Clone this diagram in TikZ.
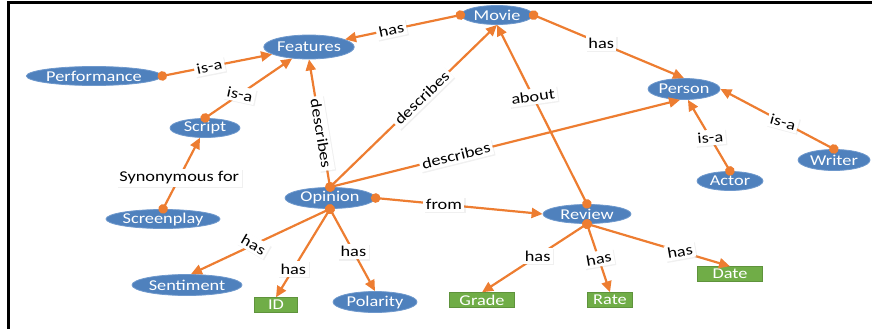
\documentclass[tikz,border=0pt]{standalone}
\usepackage{fontspec}
\setmainfont[FakeStretch=1.22]{Carlito}
\usepackage{tikz}
\usetikzlibrary{arrows.meta, calc, positioning, shapes.geometric, shadows}
\definecolor{conceptfill}{RGB}{79, 129, 189}
\definecolor{conceptstroke}{RGB}{110, 152, 204}
\definecolor{attrfill}{RGB}{112, 173, 71}
\definecolor{linkcol}{RGB}{237, 125, 49}
\definecolor{framecol}{RGB}{0, 0, 0}
\tikzset{
  % concepts (blue ellipses) and attributes (green boxes)
  concept/.style={
    ellipse, fill=conceptfill, draw=conceptstroke, line width=0.8pt,
    text=white, inner sep=0pt, minimum height=19pt,
    font=\fontsize{15}{17}\selectfont
  },
  attr/.style={
    rectangle, fill=attrfill, draw=attrfill!85!black, line width=0.4pt,
    text=white, inner sep=0pt, minimum height=15pt,
    font=\fontsize{15}{17}\selectfont
  },
  %
  % relations: dot at the source, filled head at the target
  link/.style={
    {Circle[length=9.5pt]}-{Triangle[length=11pt, width=10pt]},
    color=linkcol, line width=2.2pt, shorten <=-4.5pt
  },
  % relation names sit on a white card
  tag/.style={
    fill=white, text=black, inner sep=2.5pt,
    drop shadow={opacity=0.12, shadow xshift=1.2pt, shadow yshift=-1.2pt},
    font=\fontsize{15}{17}\selectfont
  },
}

\begin{document}
\begin{tikzpicture}[x=1pt, y=-1pt]
  \useasboundingbox (0,0) rectangle (872,329);

  %% ── frame (top and left only) ─────────────────────────────────────────────
  \draw[framecol, line width=3pt] (8,329) -- (8,3) -- (872,3);

  %% ── concepts ──────────────────────────────────────────────────────────────
  \node[concept, minimum width=72pt]  (movie)       at (497, 15)  {Movie};
  \node[concept, minimum width=86pt, minimum height=24pt]  (features) at (309, 47) {Features};
  \node[concept, minimum width=125pt] (performance) at (94, 76)   {Performance};
  \node[concept, minimum width=70pt]  (script)      at (205, 128) {Script};
  \node[concept, minimum width=110pt] (screenplay)  at (163, 219) {Screenplay};
  \node[concept, minimum width=90pt, minimum height=21pt]  (opinion) at (330, 198) {Opinion};
  \node[concept, minimum width=110pt, minimum height=21pt] (sentiment) at (187, 285) {Sentiment};
  \node[concept, minimum width=84pt, minimum height=21pt]  (polarity) at (375, 302) {Polarity};
  \node[concept, minimum width=88pt]  (review)      at (587, 214) {Review};
  \node[concept, minimum width=72pt, minimum height=21pt]  (person) at (684, 89) {Person};
  \node[concept, minimum width=66pt]  (actor)       at (730, 181) {Actor};
  \node[concept, minimum width=72pt, minimum height=21pt]  (writer) at (834, 160) {Writer};

  %% ── attributes ────────────────────────────────────────────────────────────
  \node[attr, minimum width=43pt] (id)    at (276, 305) {ID};
  \node[attr, minimum width=65pt] (grade) at (482, 300) {Grade};
  \node[attr, minimum width=45pt] (rate)  at (610, 300) {Rate};
  \node[attr, minimum width=65pt] (date)  at (730, 274) {Date};

  %% ── relations ─────────────────────────────────────────────────────────────
  \draw[link] (movie.west) -- node[tag, sloped, pos=0.6] {has} (features);
  \draw[link] (movie.east) -- node[tag, pos=0.45] {has} (person.north);
  \draw[link] (performance.east) -- node[tag, sloped, pos=0.43] {is-a} (features);
  \draw[link] (script.north) -- node[tag, rotate=-12, pos=0.4] {is-a} (features);
  \draw[link] (screenplay.north) -- node[tag, pos=0.44] {Synonymous for} (script);
  \draw[link] (opinion.north) -- node[tag, sloped, pos=0.42] {describes} (features.south);
  \draw[link] (opinion.north) -- node[tag, sloped, pos=0.55] {describes} (movie.south);
  \draw[link] (opinion.north) -- node[tag, sloped, pos=0.36] {describes} (person.250);
  \draw[link] (review.north) -- node[tag, rotate=8, pos=0.6] {about} (movie.south);
  \draw[link] (opinion.east) -- node[tag, pos=0.41] {from} (review.west);
  % opinion details
  \draw[link] (opinion.south) -- node[tag, rotate=-30, pos=0.55] {has} (sentiment.70);
  \draw[link] (opinion.south) -- node[tag, pos=0.68] {has} (id.north);
  \draw[link] (opinion.south) -- node[tag, pos=0.52] {has} (polarity.north);
  % review details
  \draw[link] (review.south) -- node[tag, pos=0.47] {has} (grade.north);
  \draw[link] (review.south) -- node[tag, rotate=10, pos=0.51] {has} (rate.north);
  \draw[link] (review.south) -- node[tag, rotate=10, pos=0.65] {has} (date.north);
  % person kinds
  \draw[link] (actor.north) -- node[tag, rotate=5, pos=0.47] {is-a} (person.290);
  \draw[link] (writer.north) -- node[tag, rotate=-15, pos=0.45] {is-a} (person.east);

\end{tikzpicture}
\end{document}
